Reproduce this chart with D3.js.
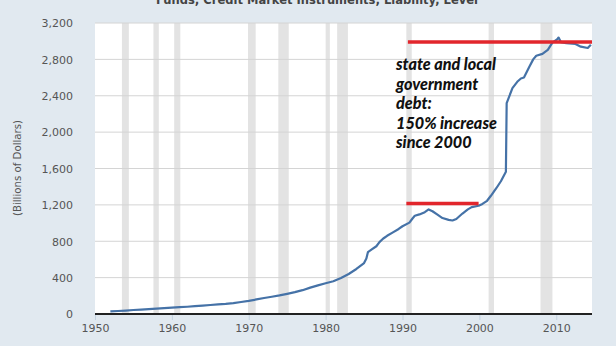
<!DOCTYPE html>
<html>
<head>
<meta charset="utf-8">
<script src="https://cdn.jsdelivr.net/npm/d3@7"></script>
<style>
  html, body { margin: 0; padding: 0; background: #e1e9f0; }
  svg { display: block; }
</style>
</head>
<body>
<svg id="chart" width="616" height="346"></svg>
<script>
// ---- data ----
const years = [1952, 1953, 1954, 1955, 1956, 1957, 1958, 1959, 1960, 1961, 1962, 1963, 1964, 1965, 1966, 1967, 1968, 1969,
  1970, 1971, 1972, 1973, 1974, 1975, 1976, 1977, 1978, 1979, 1980, 1981, 1982, 1983, 1984, 1985, 1985.3, 1985.5, 1986,
  1986.6, 1987, 1987.5, 1988, 1988.7, 1989.5, 1990, 1990.9, 1991.3, 1991.6, 1992.2, 1992.9, 1993.4, 1993.9, 1994.5, 1995.2,
  1996, 1996.5, 1997, 1997.8, 1998.5, 1999, 1999.9, 2000.4, 2001, 2001.5, 2002.2, 2002.8, 2003.45, 2003.55, 2004.3, 2005,
  2005.4, 2005.8, 2006.5, 2007, 2007.4, 2008.2, 2008.9, 2009.5, 2010.1, 2010.3, 2010.6, 2011.3, 2012.5, 2013.2, 2014.1, 2014.5];
const debt = [28, 33, 38, 44, 49, 54, 59, 64, 70, 75, 80, 86, 92, 99, 105, 111, 120, 132,
  145, 160, 176, 190, 205, 222, 240, 262, 290, 315, 338, 360, 395, 440, 495, 560, 610, 680, 710,
  745, 790, 830, 860, 895, 935, 965, 1005, 1050, 1080, 1095, 1120, 1150, 1130, 1095, 1055,
  1035, 1028, 1045, 1105, 1150, 1175, 1190, 1210, 1245, 1300, 1383, 1460, 1565, 2320, 2483, 2560,
  2590, 2600, 2720, 2800, 2840, 2860, 2905, 2985, 3020, 3040, 2990, 2978, 2970, 2940, 2925, 2960];

// NBER recessions (start, end) in decimal years
const recessionStart = [1953.5, 1957.6, 1960.3, 1969.9, 1973.85, 1980.0, 1981.5, 1990.5, 2001.2, 2007.95];
const recessionEnd   = [1954.4, 1958.3, 1961.1, 1970.9, 1975.2, 1980.55, 1982.9, 1991.2, 2001.9, 2009.5];

const yTicks = [0, 400, 800, 1200, 1600, 2000, 2400, 2800, 3200];
const xTicks = [1950, 1960, 1970, 1980, 1990, 2000, 2010];

// red reference lines
const refStart = [1990.7, 1990.5];
const refEnd   = [2014.65, 1999.9];
const refValue = [2990, 1215];

const noteLines = ["state and local", "government", "debt:", "150% increase", "since 2000"];
const titleText = "Funds; Credit Market Instruments; Liability, Level";
const yTitle = "(Billions of Dollars)";

// ---- drawing ----
const svg = d3.select("#chart");
const pLeft = 95, pRight = 592, pTop = 23, pBottom = 314;

const x = d3.scaleLinear().domain([1950, 2014.65]).range([pLeft, pRight]);
const y = d3.scaleLinear().domain([0, 3200]).range([pBottom, pTop]);

// plot background
svg.append("rect").attr("x", pLeft).attr("y", pTop).attr("width", pRight - pLeft).attr("height", pBottom - pTop)
  .attr("fill", "#ffffff");

// recession bars
svg.append("g").selectAll("rect").data(recessionStart).join("rect")
  .attr("x", (d) => x(d))
  .attr("width", (d, i) => x(recessionEnd[i]) - x(d))
  .attr("y", pTop).attr("height", pBottom - pTop)
  .attr("fill", "#e3e3e3");

// gridlines
svg.append("g").selectAll("line").data(yTicks.filter(d => d > 0)).join("line")
  .attr("x1", pLeft).attr("x2", pRight)
  .attr("y1", d => y(d)).attr("y2", d => y(d))
  .attr("stroke", "#d4d4d4").attr("stroke-width", 1);

// y axis labels
const yAxis = d3.axisLeft(y).tickValues(yTicks).tickFormat(d3.format(",")).tickSize(0).tickPadding(0);
const gy = svg.append("g").attr("transform", `translate(${pLeft - 22},0)`).call(yAxis);
gy.select(".domain").remove();
gy.selectAll("text").attr("font-family", "DejaVu Sans, Verdana, sans-serif").attr("font-size", 11)
  .attr("fill", "#555").attr("dy", "0.35em");

// x axis
const xAxis = d3.axisBottom(x).tickValues(xTicks).tickFormat(d3.format("d")).tickSize(6).tickPadding(4);
const gx = svg.append("g").attr("transform", `translate(0,${pBottom})`).call(xAxis);
gx.select(".domain").remove();
gx.selectAll("line").attr("stroke", "#c3d2e0");
gx.selectAll("text").attr("font-family", "DejaVu Sans, Verdana, sans-serif").attr("font-size", 11)
  .attr("fill", "#555");

// baseline
svg.append("line").attr("x1", pLeft).attr("x2", pRight).attr("y1", y(0)).attr("y2", y(0))
  .attr("stroke", "#222").attr("stroke-width", 2);

// series line
const line = d3.line().x((d, i) => x(years[i])).y(d => y(d)).curve(d3.curveLinear);
svg.append("path").datum(debt).attr("d", line)
  .attr("fill", "none").attr("stroke", "#4572a7").attr("stroke-width", 2.2).attr("stroke-linejoin", "round");

// red reference lines
svg.append("g").selectAll("line").data(refValue).join("line")
  .attr("x1", (d, i) => x(refStart[i])).attr("x2", (d, i) => x(refEnd[i]))
  .attr("y1", d => y(d)).attr("y2", d => y(d))
  .attr("stroke", "#e2262c").attr("stroke-width", 3.5);

// annotation
svg.append("text").attr("x", 396).attr("y", 70)
  .attr("font-family", "Lato, Calibri, sans-serif").attr("font-weight", "900").attr("font-style", "italic")
  .attr("font-size", 16.2).attr("fill", "#111")
  .selectAll("tspan").data(noteLines).join("tspan")
  .attr("x", 396).attr("dy", (d, i) => i === 0 ? 0 : 19.6).text(d => d);

// title (partly cut at top, as in the reference)
svg.append("text").attr("x", 317).attr("y", 4).attr("text-anchor", "middle")
  .attr("font-family", "DejaVu Sans, Verdana, sans-serif").attr("font-weight", "bold").attr("font-size", 11.5)
  .attr("fill", "#444").text(titleText);

// y axis title
svg.append("text").attr("transform", `translate(21,168) rotate(-90)`).attr("text-anchor", "middle")
  .attr("font-family", "DejaVu Sans, Verdana, sans-serif").attr("font-size", 10.2).attr("fill", "#555")
  .text(yTitle);
</script>
</body>
</html>
